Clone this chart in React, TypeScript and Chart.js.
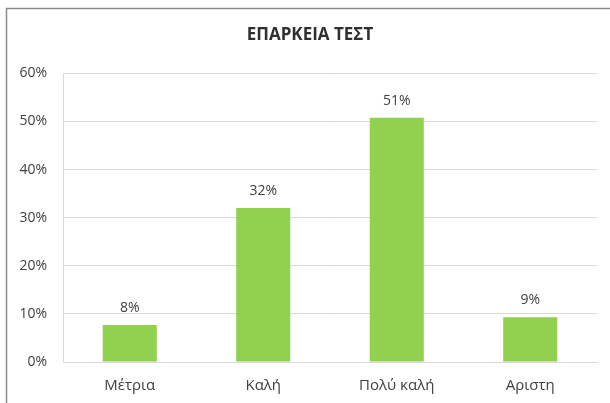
import React, { useEffect, useRef } from "react";
import { Chart, registerables } from "chart.js";

Chart.register(...registerables);

const categories = ["Μέτρια", "Καλή", "Πολύ καλή", "Αριστη"];
const values = [0.077, 0.32, 0.508, 0.093];
const valueLabels = ["8%", "32%", "51%", "9%"];
const yTicks = [0, 0.1, 0.2, 0.3, 0.4, 0.5, 0.6];
const titleText = "ΕΠΑΡΚΕΙΑ ΤΕΣΤ";

const FONT = "'Open Sans', 'Liberation Sans', sans-serif";
const TEXT = "#404040";
const GRID = "#d9d9d9";

export default function App() {
  const ref = useRef<HTMLCanvasElement | null>(null);

  useEffect(() => {
    if (!ref.current) return;
    const borderPlugin = {
      id: "outerBorder",
      beforeDraw(chart: any) {
        const ctx = chart.ctx;
        ctx.save();
        ctx.fillStyle = "#ffffff";
        ctx.fillRect(0, 0, chart.width, chart.height);
        ctx.strokeStyle = "#8c8c8c";
        ctx.lineWidth = 1.5;
        ctx.beginPath();
        ctx.moveTo(6.5, chart.height);
        ctx.lineTo(6.5, 8.5);
        ctx.lineTo(chart.width, 8.5);
        ctx.stroke();
        ctx.restore();
      },
    };
    const labelPlugin = {
      id: "valueLabels",
      afterDatasetsDraw(chart: any) {
        const ctx = chart.ctx;
        const meta = chart.getDatasetMeta(0);
        ctx.save();
        ctx.fillStyle = TEXT;
        ctx.font = `14px ${FONT}`;
        ctx.textAlign = "center";
        ctx.textBaseline = "middle";
        meta.data.forEach((bar: any, i: number) => {
          ctx.fillText(valueLabels[i], bar.x, bar.y - 17);
        });
        ctx.restore();
      },
    };
    const chart = new Chart(ref.current, {
      type: "bar",
      data: {
        labels: categories,
        datasets: [
          {
            data: values,
            backgroundColor: "#92d050",
            borderWidth: 0,
            barPercentage: 0.405,
            categoryPercentage: 1,
          },
        ],
      },
      options: {
        responsive: false,
        animation: false,
        devicePixelRatio: 1,
        layout: { padding: { left: 10, right: 0, top: 0, bottom: 0 } },
        plugins: {
          legend: { display: false },
          tooltip: { enabled: false },
          title: {
            display: true,
            text: titleText,
            color: "#303030",
            font: { family: FONT, size: 17, weight: "bold" },
            padding: { top: 25, bottom: 28 },
          },
        },
        scales: {
          x: {
            grid: { display: false, drawTicks: false },
            border: { display: true, color: GRID, width: 1 },
            ticks: {
              color: TEXT,
              font: { family: FONT, size: 15 },
              padding: 15,
            },
            afterFit(scale: any) {
              scale.height = 41;
            },
          },
          y: {
            min: 0,
            max: 0.6,
            afterBuildTicks(scale: any) {
              scale.ticks = yTicks.map((v) => ({ value: v }));
            },
            grid: { color: GRID, drawTicks: false },
            border: { display: true, color: GRID, width: 1 },
            ticks: {
              color: TEXT,
              font: { family: FONT, size: 14 },
              padding: 16,
              callback: (v: any) => Math.round(Number(v) * 100) + "%",
            },
            afterFit(scale: any) {
              scale.width = 53;
            },
          },
          yRightSpace: {
            position: "right",
            min: 0,
            max: 0.6,
            grid: { display: false, drawTicks: false },
            border: { display: false },
            ticks: { display: false },
            afterFit(scale: any) {
              scale.width = 13;
            },
          },
        },
      },
      plugins: [borderPlugin, labelPlugin],
    } as any);
    return () => chart.destroy();
  }, []);

  return (
    <div style={{ position: "absolute", left: 0, top: 0, width: 610, height: 403 }}>
      <canvas ref={ref} width={610} height={403} style={{ display: "block" }} />
    </div>
  );
}
